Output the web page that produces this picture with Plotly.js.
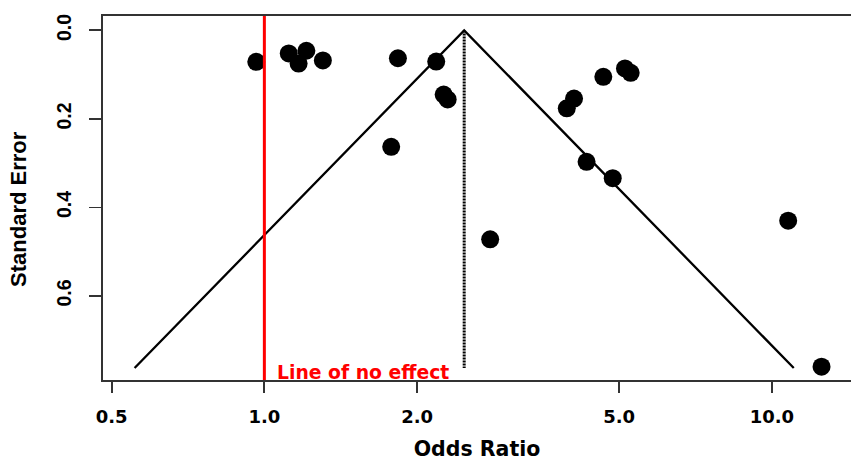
<!DOCTYPE html>
<html>
<head>
<meta charset="utf-8">
<script src="https://cdn.plot.ly/plotly-3.0.1.min.js"></script>
<style>html,body{margin:0;padding:0;background:#fff;}#chart{width:851px;height:461px;}</style>
</head>
<body>
<div id="chart"></div>
<script>
// Study-level estimates
var oddsRatio = [0.964, 1.117, 1.210, 1.168, 1.304, 1.833, 2.181, 2.256, 2.297, 1.778,
                 2.786, 3.944, 4.076, 4.655, 5.136, 5.270, 4.314, 4.858, 10.77, 12.53];
var stdError  = [0.071, 0.052, 0.046, 0.075, 0.068, 0.063, 0.0705, 0.145, 0.156, 0.263,
                 0.472, 0.176, 0.154, 0.105, 0.086, 0.096, 0.297, 0.334, 0.430, 0.760];
// Pooled estimate and funnel extent
var pooledOR = 2.476;
var seMax = 0.763;
var zCrit = 1.96;
var xTickVals = [0.5, 1, 2, 5, 10];
var xTickText = ['0.5', '1.0', '2.0', '5.0', '10.0'];
var yTickVals = [0, 0.2, 0.4, 0.6];
var yTickText = ['0.0', '0.2', '0.4', '0.6'];
var noEffect = 1;

var lc = Math.log(pooledOR);
var funnelX = [Math.exp(lc - zCrit * seMax), pooledOR, Math.exp(lc + zCrit * seMax)];
var funnelY = [seMax, 0, seMax];

var traces = [
  {x: funnelX, y: funnelY, mode: 'lines', type: 'scatter',
   line: {color: '#000', width: 2.3}, hoverinfo: 'skip'},
  {x: [pooledOR, pooledOR], y: [0, seMax], mode: 'lines', type: 'scatter',
   line: {color: '#000', width: 3, dash: '2px,1px'}, hoverinfo: 'skip'},
  {x: oddsRatio, y: stdError, mode: 'markers', type: 'scatter',
   marker: {color: '#000', size: 18, line: {width: 0}}}
];

var tickFont = {family: 'DejaVu Sans', size: 18, color: '#000', weight: 'bold'};

var layout = {
  width: 851, height: 461,
  margin: {l: 103, r: 0, t: 16, b: 81},
  paper_bgcolor: '#fff', plot_bgcolor: '#fff',
  showlegend: false,
  xaxis: {
    type: 'log', range: [-0.318, 1.156], autorange: false,
    tickvals: xTickVals, ticktext: xTickText,
    ticks: 'outside', ticklen: 11, tickwidth: 1.8, tickcolor: '#333',
    showline: true, linecolor: '#333', linewidth: 2, mirror: true,
    showgrid: false, zeroline: false,
    tickfont: tickFont, ticklabelstandoff: 8,
    title: {text: 'Odds Ratio', font: {family: 'DejaVu Sans', size: 20.5, color: '#000', weight: 'bold'}, standoff: 24}
  },
  yaxis: {
    range: [0.790, -0.0325], autorange: false,
    tickvals: yTickVals, ticktext: yTickText, tickangle: -90,
    ticks: 'outside', ticklen: 12, tickwidth: 1.8, tickcolor: '#333',
    showline: true, linecolor: '#333', linewidth: 2, mirror: false,
    showgrid: false, zeroline: false,
    tickfont: {family: 'Liberation Sans', size: 19.5, color: '#000', weight: 'bold'}, ticklabelstandoff: 10
  },
  shapes: [
    {type: 'line', xref: 'x', yref: 'paper', x0: noEffect, x1: noEffect, y0: 0, y1: 1,
     line: {color: '#ff0000', width: 3}}
  ],
  annotations: [
    {xref: 'x', yref: 'y', x: Math.log10(noEffect), y: 0.772, xanchor: 'left', yanchor: 'middle',
     xshift: 11, showarrow: false, text: 'Line of no effect',
     font: {family: 'DejaVu Sans', size: 18.8, color: '#ff0000', weight: 'bold'}},
    {xref: 'paper', yref: 'paper', x: -0.1123, y: 0.47, xanchor: 'center', yanchor: 'middle',
     textangle: -90, showarrow: false, text: 'Standard Error',
     font: {family: 'Liberation Sans', size: 22, color: '#000', weight: 'bold'}}
  ]
};

Plotly.newPlot('chart', traces, layout, {displayModeBar: false, staticPlot: true});
</script>
</body>
</html>
